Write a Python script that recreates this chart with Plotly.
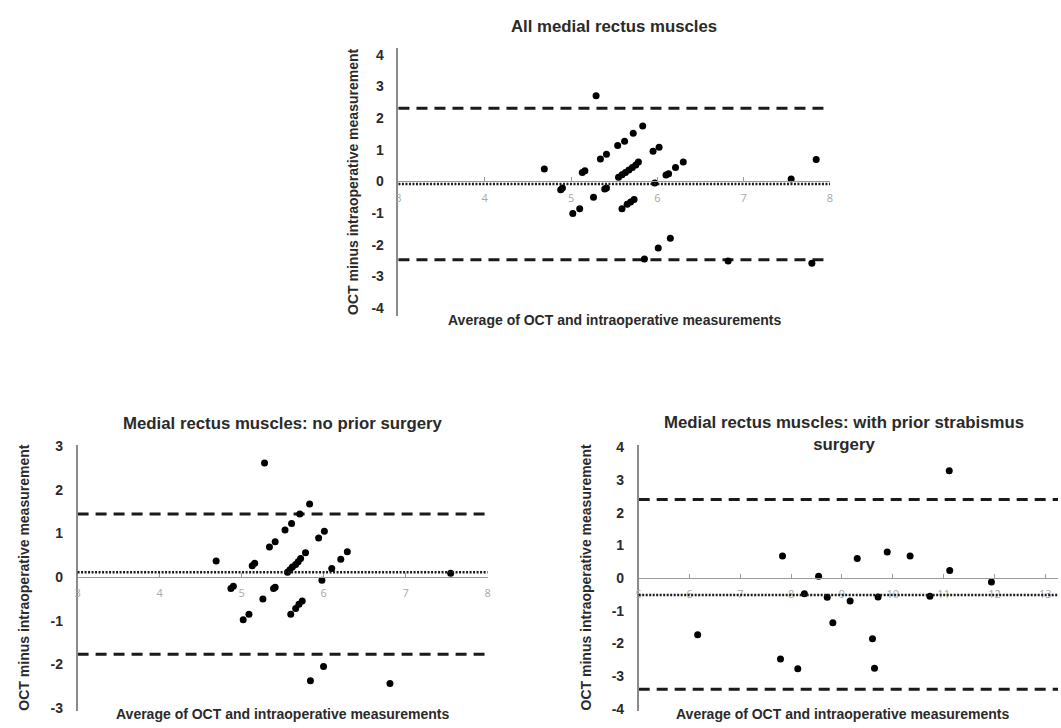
import plotly.graph_objects as go

# ---------------- data ----------------
# All medial rectus muscles
all_x = [5.29, 4.69, 4.88, 4.90, 5.02, 5.10, 5.13, 5.16, 5.26, 5.34, 5.41, 5.39, 5.41,
         5.54, 5.62, 5.72, 5.83,
         5.55, 5.59, 5.63, 5.67, 5.71, 5.75, 5.78,
         5.59, 5.65, 5.69, 5.73,
         5.95, 6.02, 5.97, 6.10, 6.13, 6.21, 6.30,
         5.85, 6.01, 6.15, 6.82, 7.55, 7.84, 7.79]
all_y = [2.70, 0.39, -0.26, -0.21, -1.01, -0.86, 0.28, 0.34, -0.50, 0.71, 0.86, -0.24, -0.21,
         1.13, 1.27, 1.52, 1.75,
         0.13, 0.21, 0.28, 0.36, 0.44, 0.52, 0.61,
         -0.86, -0.72, -0.65, -0.57,
         0.95, 1.08, -0.05, 0.20, 0.24, 0.44, 0.61,
         -2.45, -2.10, -1.79, -2.51, 0.08, 0.69, -2.58]
all_limits = [2.31, -2.47]
all_mean = -0.08
all_yticks = [-4, -3, -2, -1, 0, 1, 2, 3, 4]
all_xticks = [3, 4, 5, 6, 7, 8]

# No prior surgery
np_x = [5.28, 4.69, 4.87, 4.90, 5.02, 5.09, 5.13, 5.16, 5.26, 5.34, 5.41, 5.39, 5.41,
        5.53, 5.61, 5.71, 5.83,
        5.56, 5.59, 5.62, 5.66, 5.69, 5.72, 5.78,
        5.60, 5.66, 5.70, 5.74,
        5.94, 6.01, 5.98, 6.10, 6.21, 6.29,
        5.84, 6.00, 6.81, 7.55]
np_y = [2.62, 0.37, -0.26, -0.21, -0.98, -0.85, 0.26, 0.32, -0.50, 0.69, 0.81, -0.26, -0.23,
        1.08, 1.23, 1.45, 1.68,
        0.11, 0.17, 0.23, 0.29, 0.35, 0.43, 0.56,
        -0.85, -0.72, -0.62, -0.55,
        0.90, 1.05, -0.07, 0.20, 0.41, 0.58,
        -2.38, -2.05, -2.44, 0.09]
np_limits = [1.45, -1.77]
np_mean = 0.11
np_yticks = [-3, -2, -1, 0, 1, 2, 3]
np_xticks = [3, 4, 5, 6, 7, 8]

# With prior strabismus surgery
wp_x = [11.11, 7.83, 8.54, 9.30, 9.89, 10.34, 11.12, 11.94, 8.26, 8.71, 9.16, 9.71, 10.73,
        8.82, 6.16, 9.60, 7.79, 8.13, 9.64]
wp_y = [3.29, 0.68, 0.06, 0.60, 0.80, 0.68, 0.23, -0.12, -0.48, -0.59, -0.70, -0.58, -0.56,
        -1.37, -1.74, -1.86, -2.48, -2.78, -2.76]
wp_limits = [2.41, -3.41]
wp_mean = -0.52
wp_yticks = [-4, -3, -2, -1, 0, 1, 2, 3, 4]
wp_xticks = [5, 6, 7, 8, 9, 10, 11, 12, 13]

titles = ["All medial rectus muscles",
          "Medial rectus muscles: no prior surgery",
          "Medial rectus muscles: with prior strabismus<br>surgery"]
x_title = "Average of OCT and intraoperative measurements"
y_title = "OCT minus intraoperative measurement"

# ---------------- layout helpers ----------------
W, H = 1061, 728
FONT = "Liberation Sans"


def px_x(p):
    return p / W


def px_y(p):
    return 1 - p / H


panels = [
    dict(x=all_x, y=all_y, lim=all_limits, mean=all_mean, xr=[3, 8], yr=[-4.24, 4.21],
         yt=all_yticks, xt=all_xticks,
         xd=(397.7, 831.7), yd=(42.7, 315.0), title_y=21, xt_y=319, yt_x=352),
    dict(x=np_x, y=np_y, lim=np_limits, mean=np_mean, xr=[3, 8], yr=[-3.07, 3.04],
         yt=np_yticks, xt=np_xticks,
         xd=(75.0, 487.3), yd=(446.0, 716.7), title_y=425, xt_y=720, yt_x=21),
    dict(x=wp_x, y=wp_y, lim=wp_limits, mean=wp_mean, xr=[5, 13.25], yr=[-4.07, 4.09],
         yt=wp_yticks, xt=wp_xticks,
         xd=(639.3, 1061.0), yd=(446.0, 716.7), title_y=435, xt_y=720, yt_x=586),
]

fig = go.Figure()
layout = dict(width=W, height=H, autosize=False,
              margin=dict(l=0, r=0, t=0, b=0, pad=0),
              paper_bgcolor="white", plot_bgcolor="white",
              showlegend=False, shapes=[], annotations=[])

for i, p in enumerate(panels, start=1):
    sx = "" if i == 1 else str(i)
    xa, ya = "x" + sx, "y" + sx
    fig.add_trace(go.Scatter(x=p["x"], y=p["y"], mode="markers", xaxis=xa, yaxis=ya,
                             marker=dict(color="black", size=7), hoverinfo="x+y"))
    ydom = [px_y(p["yd"][1]), px_y(p["yd"][0])]
    xdom = [px_x(p["xd"][0]), min(1.0, px_x(p["xd"][1]))]
    y0, y1 = p["yr"]
    pos = ydom[0] + (0 - y0) / (y1 - y0) * (ydom[1] - ydom[0])
    layout["xaxis" + sx] = dict(domain=xdom, range=p["xr"], anchor="free", position=pos,
                                showline=True, linecolor="#9a9a9a", linewidth=1,
                                ticks="inside", ticklen=4, tickcolor="#9a9a9a",
                                tickvals=p["xt"], ticktext=[str(v) for v in p["xt"]],
                                tickfont=dict(family="Open Sans", size=11, color="#a8a8a8"),
                                ticklabelstandoff=6,
                                showgrid=False, zeroline=False, fixedrange=True)
    layout["yaxis" + sx] = dict(domain=ydom, range=p["yr"], anchor=xa,
                                showline=True, linecolor="#8a8a8a", linewidth=1.5,
                                ticks="outside", ticklen=10, tickcolor="rgba(0,0,0,0)",
                                tickvals=p["yt"], ticktext=[str(v) for v in p["yt"]],
                                tickfont=dict(family=FONT, size=14, color="#2a2a2a", weight="bold"),
                                showgrid=False, zeroline=False, fixedrange=True)
    # limits of agreement (dashed) and mean difference (dotted)
    for v in p["lim"]:
        layout["shapes"].append(dict(type="line", xref=xa + " domain", yref=ya, x0=0, x1=1,
                                     y0=v, y1=v, layer="below",
                                     line=dict(color="#1a1a1a", width=3, dash="11px,7px")))
    layout["shapes"].append(dict(type="line", xref=xa + " domain", yref=ya, x0=0, x1=1,
                                 y0=p["mean"], y1=p["mean"], layer="above",
                                 line=dict(color="#1a1a1a", width=2.5, dash="2px,1.5px")))
    cx = (p["xd"][0] + min(W, p["xd"][1])) / 2
    if i == 3:
        cx = 846
    layout["annotations"].append(dict(text="<b>" + titles[i - 1] + "</b>", xref="paper", yref="paper",
                                      x=px_x(cx), y=px_y(p["title_y"]), xanchor="center",
                                      yanchor="middle", showarrow=False,
                                      font=dict(family=FONT, size=16.8, color="#2a2a2a")))
    layout["annotations"].append(dict(text="<b>" + x_title + "</b>", xref="paper", yref="paper",
                                      x=px_x((p["xd"][0] + min(W, p["xd"][1])) / 2 - (6 if i == 3 else 0)),
                                      y=px_y(p["xt_y"]), xanchor="center", yanchor="middle",
                                      showarrow=False,
                                      font=dict(family=FONT, size=14, color="#2a2a2a")))
    layout["annotations"].append(dict(text="<b>" + y_title + "</b>", xref="paper", yref="paper",
                                      x=px_x(p["yt_x"]), y=px_y((p["yd"][0] + p["yd"][1]) / 2),
                                      xanchor="center", yanchor="middle", textangle=-90,
                                      showarrow=False,
                                      font=dict(family=FONT, size=14, color="#2a2a2a")))

fig.update_layout(**layout)
# remove the default 8px page margin so the figure sits at the window's corner
fig.write_html("out.html", config={"displayModeBar": False},
               post_script="document.body.style.margin='0px';")
